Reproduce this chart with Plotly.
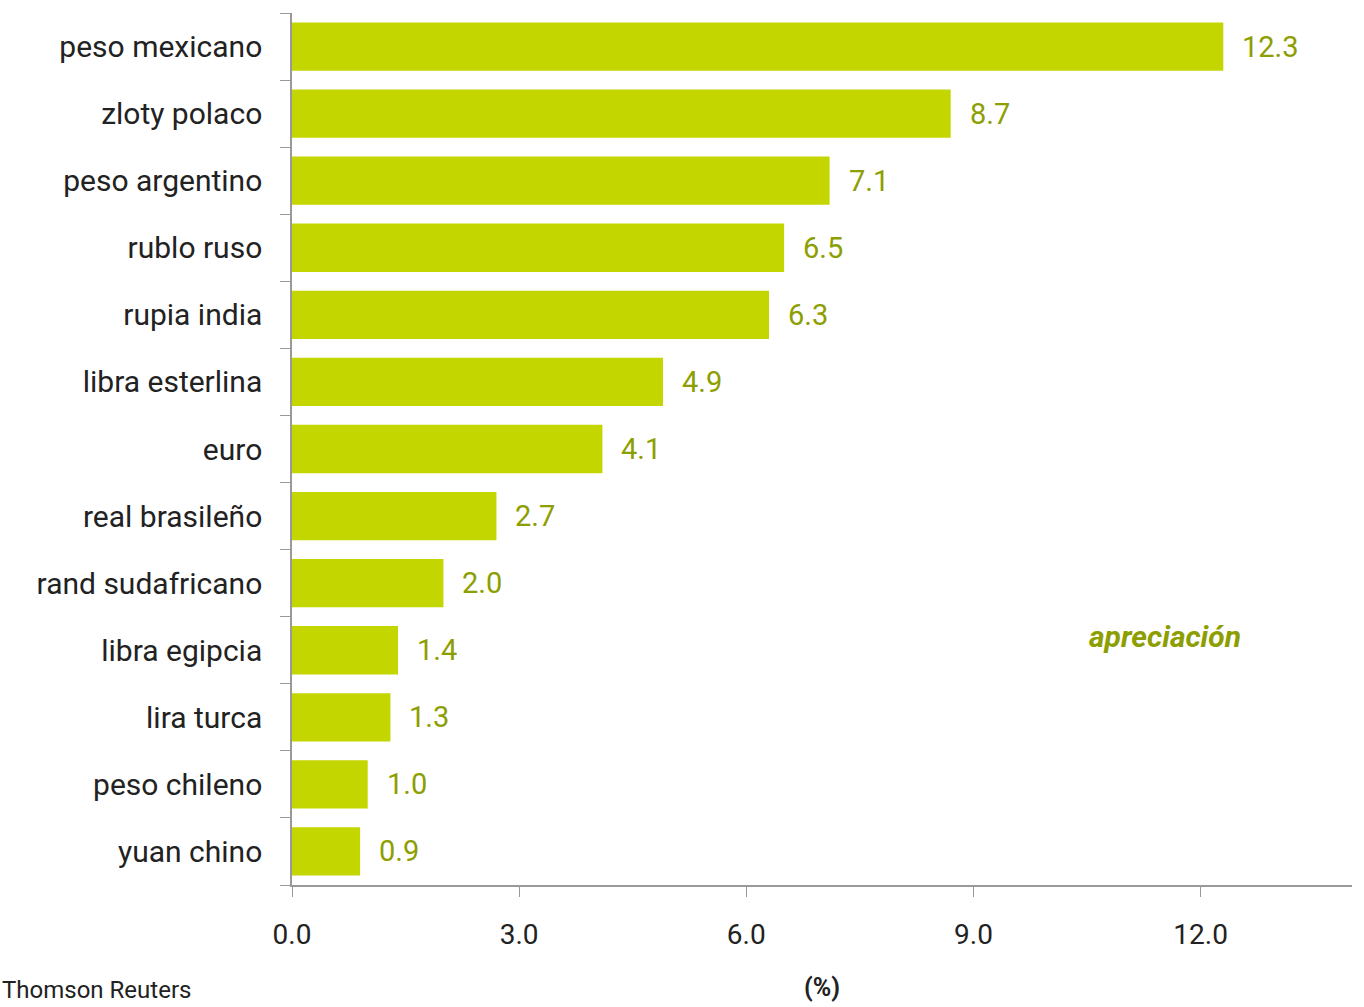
import plotly.graph_objects as go

categories = ["peso mexicano", "zloty polaco", "peso argentino", "rublo ruso", "rupia india",
              "libra esterlina", "euro", "real brasileño", "rand sudafricano", "libra egipcia",
              "lira turca", "peso chileno", "yuan chino"]
values = [12.3, 8.7, 7.1, 6.5, 6.3, 4.9, 4.1, 2.7, 2.0, 1.4, 1.3, 1.0, 0.9]
x_ticks = [0, 3, 6, 9, 12]
x_tick_labels = ["0.0", "3.0", "6.0", "9.0", "12.0"]

BAR = "#c4d600"
LBL = "#8c9e00"
FONT = "Roboto, sans-serif"

L, T, W, H = 292, 13, 1060, 872

fig = go.Figure()
fig.add_trace(go.Bar(
    x=values, y=categories, orientation="h",
    marker=dict(color=BAR, line=dict(width=0)),
    width=0.72, hoverinfo="skip",
))

for c, v in zip(categories, values):
    fig.add_annotation(x=v, y=c, text=f"{v:.1f}", showarrow=False,
                       xanchor="left", xshift=17,
                       font=dict(family=FONT, size=29, color=LBL))

fig.add_annotation(x=(1165 - L) / W, y=(T + H - 636) / H, xref="paper", yref="paper",
                   text="<b><i>apreciación</i></b>", showarrow=False,
                   xanchor="center", yanchor="middle",
                   font=dict(family=FONT, size=30, color=LBL))
fig.add_annotation(x=(822 - L) / W, y=-(987 - T - H) / H, xref="paper", yref="paper",
                   text="<b>(%)</b>", showarrow=False, yanchor="middle",
                   font=dict(family=FONT, size=25, color="#222222"))
fig.add_annotation(x=-L / W, y=-(1006 - T - H) / H, xref="paper", yref="paper",
                   text="Thomson Reuters", showarrow=False, xanchor="left", yanchor="bottom",
                   font=dict(family=FONT, size=24, color="#222222"))

fig.update_layout(
    width=1364, height=1007,
    margin=dict(l=L, r=1364 - L - W, t=T, b=1007 - T - H, autoexpand=False),
    plot_bgcolor="white", paper_bgcolor="white",
    showlegend=False,
    font=dict(family=FONT, size=28, color="#222222"),
    xaxis=dict(range=[0, 14], tickvals=x_ticks, ticktext=x_tick_labels,
               showgrid=False, zeroline=False, showline=True, linecolor="#999999",
               linewidth=1.5, ticks="outside", ticklen=10, tickcolor="#999999",
               tickfont=dict(family=FONT, size=28, color="#222222"),
               ticklabelstandoff=14, automargin=False),
    yaxis=dict(categoryorder="array", categoryarray=categories[::-1],
               showgrid=False, zeroline=False, showline=True, linecolor="#999999",
               linewidth=1.5, ticks="outside", ticklen=10, tickcolor="#999999",
               tickson="boundaries",
               tickfont=dict(family=FONT, size=30, color="#222222"),
               ticklabelstandoff=22, automargin=False),
)

fig.write_html("out.html", config={"displayModeBar": False},
               post_script="document.body.style.margin='0';document.body.style.overflow='hidden';")
